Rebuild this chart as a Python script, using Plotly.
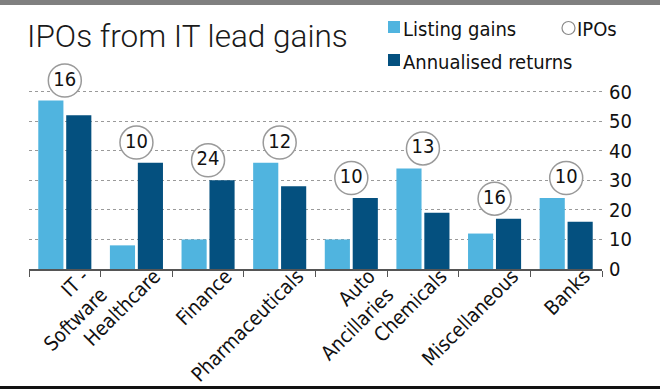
import plotly.graph_objects as go

categories = ["IT -<br>Software", "Healthcare", "Finance", "Pharmaceuticals",
              "Auto<br>Ancillaries", "Chemicals", "Miscellaneous", "Banks"]
listing_gains = [57, 8, 10, 36, 10, 34, 12, 24]
annualised_returns = [52, 36, 30, 28, 24, 19, 17, 16]
ipo_counts = [16, 10, 24, 12, 10, 13, 16, 10]
y_ticks = [0, 10, 20, 30, 40, 50, 60]

LIGHT = "#50b4df"
DARK = "#04507f"
FONT = "Liberation Sans Narrow, DejaVu Sans Condensed, Arial Narrow, sans-serif"

W, H = 660, 389
Y_MAX = 66
L, R, B = 29, 58, 120
BASE = H - B                     # pixel row of value 0
UNIT = 177 / 60                  # pixels per unit
T = round(BASE - Y_MAX * UNIT)
PW, PH = W - L - R, H - T - B

def px(x):
    return (x - L) / PW

def py(y):
    return (H - B - y) / PH

circle_y = [max(a, b) + 6.8 for a, b in zip(listing_gains, annualised_returns)]

fig = go.Figure()
fig.add_trace(go.Bar(x=categories, y=listing_gains, name="Listing gains",
                     marker=dict(color=LIGHT, line=dict(width=0))))
fig.add_trace(go.Bar(x=categories, y=annualised_returns, name="Annualised returns",
                     marker=dict(color=DARK, line=dict(width=0))))
fig.add_trace(go.Scatter(x=categories, y=circle_y, mode="markers+text",
                         text=[str(v) for v in ipo_counts], textposition="middle center",
                         textfont=dict(size=20, color="#111", family=FONT),
                         marker=dict(size=33, color="white", line=dict(color="#9a9a9a", width=1.5)),
                         cliponaxis=False, name="IPOs"))

shapes = [
    dict(type="rect", xref="paper", yref="paper", x0=px(-2), x1=px(W + 2), y0=py(5), y1=py(-2),
         fillcolor="#808080", line=dict(width=0), layer="above"),
    dict(type="rect", xref="paper", yref="paper", x0=px(-2), x1=px(W + 2), y0=py(H + 2), y1=py(386),
         fillcolor="#111111", line=dict(width=0), layer="above"),
    dict(type="rect", xref="paper", yref="paper", x0=px(388), x1=px(400), y0=py(33), y1=py(21),
         fillcolor=LIGHT, line=dict(width=0)),
    dict(type="rect", xref="paper", yref="paper", x0=px(388), x1=px(400), y0=py(66), y1=py(54),
         fillcolor=DARK, line=dict(width=0)),
    dict(type="circle", xref="paper", yref="paper", x0=px(562), x1=px(575), y0=py(34.5), y1=py(21.5),
         fillcolor="white", line=dict(color="#8a8a8a", width=1.2)),
]

annotations = [
    dict(text="IPOs from IT lead gains", xref="paper", yref="paper", x=px(25), y=py(36),
         xanchor="left", yanchor="middle", showarrow=False,
         font=dict(family="Roboto", weight=300, size=31.5, color="#1a1a1a")),
    dict(text="Listing gains", xref="paper", yref="paper", x=px(401), y=py(29),
         xanchor="left", yanchor="middle", showarrow=False,
         font=dict(family=FONT, size=20, color="#111")),
    dict(text="IPOs", xref="paper", yref="paper", x=px(575), y=py(29),
         xanchor="left", yanchor="middle", showarrow=False,
         font=dict(family=FONT, size=20, color="#111")),
    dict(text="Annualised returns", xref="paper", yref="paper", x=px(401), y=py(62),
         xanchor="left", yanchor="middle", showarrow=False,
         font=dict(family=FONT, size=20, color="#111")),
]

fig.update_layout(
    width=W, height=H,
    margin=dict(l=L, r=R, t=T, b=B, pad=0),
    paper_bgcolor="white", plot_bgcolor="white",
    barmode="group", bargap=0.22, bargroupgap=0.1,
    showlegend=False,
    font=dict(family=FONT, size=20, color="#111"),
    shapes=shapes, annotations=annotations,
    xaxis=dict(type="category", range=[-0.5, len(categories) - 0.5],
               tickangle=-45, ticklabelshift=18, ticklabelstandoff=-14,
               tickfont=dict(family=FONT, size=20, color="#111"),
               showline=True, linecolor="#555", linewidth=1.5, ticks="outside",
               tickson="boundaries", ticklen=6, tickcolor="#555",
               showgrid=False, automargin=False),
    yaxis=dict(side="right", range=[0, Y_MAX], tickvals=y_ticks, showgrid=True,
               gridcolor="#9a9a9a", griddash="dot", gridwidth=1, zeroline=False,
               showline=False, ticks="", ticklabelstandoff=6, automargin=False,
               tickfont=dict(family=FONT, size=20, color="#111")),
)

fig.write_html("out.html", config={"displayModeBar": False},
               post_script="document.body.style.margin='0';document.body.style.overflow='hidden';")
